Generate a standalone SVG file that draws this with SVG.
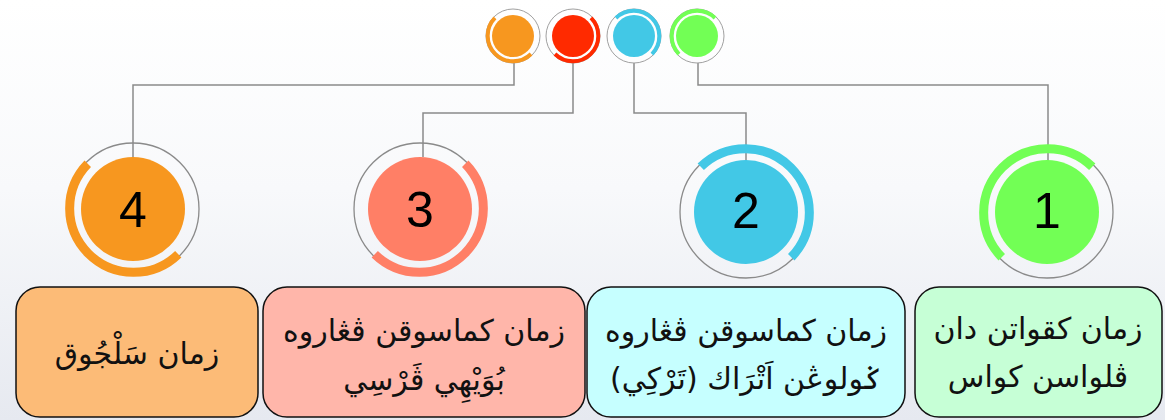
<svg xmlns="http://www.w3.org/2000/svg" width="1165" height="420" viewBox="0 0 1165 420">
<defs>
<linearGradient id="bg" x1="0" y1="0" x2="0" y2="1">
<stop offset="0" stop-color="#ffffff"/>
<stop offset="0.45" stop-color="#f8f9fb"/>
<stop offset="1" stop-color="#e6e9f0"/>
</linearGradient>
<style>
.ring{fill:none;stroke:#8a8a8a;stroke-width:1.3}
.sring{fill:none;stroke:#a0a0a0;stroke-width:1}
.arc{fill:none;stroke-width:9;stroke-linecap:butt}
.sarc{fill:none;stroke-width:4}
.conn{fill:none;stroke:#8a8a8a;stroke-width:1.5}
.num{font-family:"Liberation Sans",Arial,sans-serif;font-size:50px;fill:#000;text-anchor:middle}
.box{stroke:#111;stroke-width:1.5}
.jawi{font-family:"DejaVu Sans",sans-serif;font-size:30px;fill:#111;text-anchor:middle;direction:rtl}
</style>
</defs>
<rect x="0" y="0" width="1165" height="420" fill="url(#bg)"/>

<g id="connectors">
<polyline class="conn" points="514,63 514,85 133,85 133,157"/>
<polyline class="conn" points="573,63 573,113 423,113 423,157"/>
<polyline class="conn" points="634,63 634,113 746,113 746,161"/>
<polyline class="conn" points="698,63 698,85 1048,85 1048,161"/>
</g>

<g id="dot-4">
<circle class="sring" cx="513" cy="36" r="27"/>
<circle cx="513" cy="36" r="21" fill="#f7971f"/>
<path class="sarc" stroke="#f7971f" d="M494.97,17.97 A25.5,25.5 0 0 0 531.03,54.03"/>
</g>
<g id="dot-3">
<circle class="sring" cx="573" cy="36" r="27"/>
<circle cx="573" cy="36" r="21" fill="#ff2a00"/>
<path class="sarc" stroke="#ff2a00" d="M591.03,17.97 A25.5,25.5 0 0 1 554.97,54.03"/>
</g>
<g id="dot-2">
<circle class="sring" cx="634" cy="36" r="27"/>
<circle cx="634" cy="36" r="21" fill="#42c8e6"/>
<path class="sarc" stroke="#42c8e6" d="M615.97,17.97 A25.5,25.5 0 0 1 652.03,54.03"/>
</g>
<g id="dot-1">
<circle class="sring" cx="697" cy="36" r="27"/>
<circle cx="697" cy="36" r="21" fill="#72ff55"/>
<path class="sarc" stroke="#72ff55" d="M715.03,17.97 A25.5,25.5 0 0 0 678.97,54.03"/>
</g>

<g id="step-4">
<circle class="ring" cx="133" cy="209" r="66"/>
<circle cx="133" cy="209" r="52" fill="#f7971f"/>
<path class="arc" stroke="#f7971f" d="M87.75,163.75 A64,64 0 0 0 178.25,254.25"/>
<text class="num" x="133" y="227">4</text>
</g>
<g id="step-3">
<circle class="ring" cx="420" cy="209" r="66"/>
<circle cx="420" cy="209" r="52" fill="#ff7f66"/>
<path class="arc" stroke="#ff7f66" d="M465.25,163.75 A64,64 0 0 1 374.75,254.25"/>
<text class="num" x="420" y="227">3</text>
</g>
<g id="step-2">
<circle class="ring" cx="746" cy="212" r="66"/>
<circle cx="746" cy="212" r="52" fill="#42c8e6"/>
<path class="arc" stroke="#42c8e6" d="M700.75,166.75 A64,64 0 0 1 791.25,257.25"/>
<text class="num" x="746" y="228">2</text>
</g>
<g id="step-1">
<circle class="ring" cx="1047" cy="212" r="66"/>
<circle cx="1047" cy="212" r="52" fill="#72ff55"/>
<path class="arc" stroke="#72ff55" d="M1092.25,166.75 A64,64 0 0 0 1001.75,257.25"/>
<text class="num" x="1047" y="228">1</text>
</g>

<g id="label-4">
<rect class="box" x="16" y="287" width="242" height="130" rx="24" fill="#fcbb77"/>
<text class="jawi" x="137" y="364">زمان سَلْجُوق</text>
</g>
<g id="label-3">
<rect class="box" x="263" y="287" width="322" height="130" rx="24" fill="#ffb6aa"/>
<text class="jawi" x="424" y="341">زمان كماسوقن ڤڠاروه</text>
<text class="jawi" x="424" y="390">بُوَيْهِي ڤَرْسِي</text>
</g>
<g id="label-2">
<rect class="box" x="587" y="287" width="318" height="130" rx="24" fill="#c6ffff"/>
<text class="jawi" x="746" y="341">زمان كماسوقن ڤڠاروه</text>
<text class="jawi" x="746" y="389">ݢولوڠن اَتْرَاك (تَرْكِي)</text>
</g>
<g id="label-1">
<rect class="box" x="915" y="287" width="247" height="130" rx="24" fill="#c6ffd6"/>
<text class="jawi" x="1038" y="339">زمان كقواتن دان</text>
<text class="jawi" x="1038" y="387">ڤلواسن كواس</text>
</g>
</svg>
